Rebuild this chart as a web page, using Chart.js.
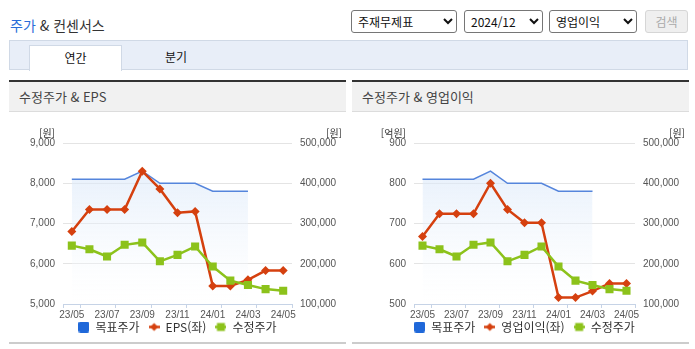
<!DOCTYPE html>
<html lang="ko">
<head>
<meta charset="utf-8">
<script src="https://cdn.jsdelivr.net/npm/chart.js@4.4.1/dist/chart.umd.min.js"></script>
<style>
  html, body { margin:0; padding:0; background:#fff; width:695px; height:349px; overflow:hidden; }
  body { position:relative; font-family:"Noto Sans CJK KR","Noto Sans",sans-serif; color:#333; }
  .abs { position:absolute; }
  #title { left:10px; top:14px; font-size:14px; line-height:22px; color:#333; white-space:nowrap; }
  #title .blue { color:#2a6dd8; }
  select { position:absolute; top:10px; height:23px; font-size:12px; font-family:"Noto Sans CJK KR",sans-serif; color:#111; border:1px solid #767676; border-radius:3px; background:#fff; padding:0 2px; }
  #btn { left:645px; top:10px; width:41px; height:21px; border:1px solid #d6d6d6; border-radius:3px; background:#efefef; color:#aaa; font-size:12px; line-height:21px; text-align:center; }
  #tabbar { left:9px; top:40px; width:677px; height:28px; background:#e8eef8; border:1px solid #d0d9e6; }
  #tab1 { left:29px; top:45px; width:91px; height:25px; background:#fff; border:1px solid #d0d9e6; border-bottom:none; text-align:center; font-size:12px; line-height:24px; color:#111; }
  #tab2 { left:146px; top:45px; width:60px; height:25px; text-align:center; font-size:12px; line-height:24px; color:#111; }
  .phead { top:80px; width:337px; height:29px; border-top:2px solid #333; border-bottom:1px solid #dcdcdc; background:#f1f1f1; font-size:13px; line-height:29px; color:#444; }
  .phead span { padding-left:10px; }
  .pfoot { top:342px; width:337px; height:2px; background:#cccccc; }
  canvas { position:absolute; }
</style>
</head>
<body>
<div id="title" class="abs"><span class="blue">주가</span> &amp; 컨센서스</div>
<select style="left:351px;width:106px;"><option>주재무제표</option></select>
<select style="left:464px;width:79px;"><option>2024/12</option></select>
<select style="left:549px;width:88px;"><option>영업이익</option></select>
<div id="btn" class="abs">검색</div>
<div id="tabbar" class="abs"></div>
<div id="tab1" class="abs">연간</div>
<div id="tab2" class="abs">분기</div>

<div class="abs phead" style="left:9px;"><span>수정주가 &amp; EPS</span></div>
<div class="abs phead" style="left:352px;"><span>수정주가 &amp; 영업이익</span></div>

<canvas id="c1" width="337" height="239" style="left:9px;top:113px;"></canvas>
<canvas id="c2" width="337" height="239" style="left:352px;top:113px;"></canvas>

<div class="abs pfoot" style="left:9px;"></div>
<div class="abs pfoot" style="left:352px;"></div>

<script>
// ---- data ----
const months = ['23/05','23/06','23/07','23/08','23/09','23/10','23/11','23/12','24/01','24/02','24/03','24/04','24/05'];
const targetPrice = [410000,410000,410000,410000,430000,400000,400000,400000,380000,380000,380000,null,null];
const adjPrice = [245000,236000,218000,247000,253000,206000,222000,243000,193000,158000,147000,137000,133000];
const eps = [6800,7350,7350,7350,8300,7860,7270,7300,5450,5450,5600,5830,5830];
const opProfit = [668,724,724,724,800,735,702,702,516,516,532,551,551];
const epsTicks = [5000,9000,1000];
const opTicks = [500,900,100];
const priceTicks = [100000,500000,100000];

// ---- styling helpers ----
const BLUE = '#5585dc', BLUE_BOX = '#1f68d9', RED = '#d5400f', GREEN = '#8cc21b';
const TICK_FONT = { family: "'Liberation Sans Narrow','Liberation Sans',sans-serif", size: 10 };
const TICK_COLOR = '#555';

function icon(kind) {
  const c = document.createElement('canvas');
  c.width = 11; c.height = 11;
  const g = c.getContext('2d');
  if (kind === 'box') {
    g.fillStyle = BLUE_BOX;
    g.beginPath(); g.roundRect(0, 0, 11, 11, 2); g.fill();
  } else {
    const col = kind === 'diamond' ? RED : GREEN;
    g.strokeStyle = col; g.lineWidth = 2.5;
    g.beginPath(); g.moveTo(0, 5.5); g.lineTo(11, 5.5); g.stroke();
    g.fillStyle = col;
    g.beginPath();
    if (kind === 'diamond') { g.moveTo(5.5, 1.5); g.lineTo(9.5, 5.5); g.lineTo(5.5, 9.5); g.lineTo(1.5, 5.5); g.closePath(); }
    else { g.rect(1.5, 1.5, 8, 8); }
    g.fill();
  }
  return c;
}
const icons = [icon('box'), icon('diamond'), icon('square')];

function gradientFill(ctx) {
  const chart = ctx.chart;
  const area = chart.chartArea;
  if (!area) return 'rgba(220,233,249,0.6)';
  const g = chart.ctx.createLinearGradient(0, area.top, 0, area.bottom);
  g.addColorStop(0, 'rgba(208,226,248,0.7)');
  g.addColorStop(1, 'rgba(255,255,255,0.2)');
  return g;
}

const unitPlugin = {
  id: 'units',
  afterLayout(chart) {
    const l = chart.legend;
    if (l) { l.top -= 9; l.bottom -= 9; }
  },
  afterDraw(chart, args, opts) {
    const { ctx, chartArea } = chart;
    ctx.save();
    ctx.font = '10px "Noto Sans CJK KR", sans-serif';
    ctx.fillStyle = '#333';
    ctx.textAlign = 'right';
    ctx.textBaseline = 'middle';
    ctx.fillText(opts.left, chartArea.left - 8, chartArea.top - 10);
    ctx.fillText(opts.right, chartArea.right + 50, chartArea.top - 10);
    ctx.restore();
  }
};

function fmt(v) { return Number(v).toLocaleString('en-US'); }

function makeChart(id, lineLabel, lineData, leftTicks, leftUnit, padLeft) {
  return new Chart(document.getElementById(id), {
    type: 'line',
    data: {
      labels: months,
      datasets: [
        { label: '목표주가', data: targetPrice, yAxisID: 'y1', borderColor: BLUE, borderWidth: 1.5,
          pointRadius: 0, fill: 'start', backgroundColor: gradientFill, order: 3, tension: 0 },
        { label: lineLabel, data: lineData, yAxisID: 'y', borderColor: RED, borderWidth: 2.5,
          pointStyle: 'rectRot', pointRadius: 4.5, pointBackgroundColor: RED, pointBorderWidth: 0,
          order: 2, tension: 0 },
        { label: '수정주가', data: adjPrice, yAxisID: 'y1', borderColor: GREEN, borderWidth: 2.5,
          pointStyle: 'rect', pointRadius: 5.7, pointBackgroundColor: GREEN, pointBorderWidth: 0,
          order: 1, tension: 0 }
      ]
    },
    options: {
      responsive: false,
      animation: false,
      layout: { padding: { top: 30, left: padLeft, right: 0, bottom: 0 } },
      plugins: {
        tooltip: { enabled: false },
        units: { left: leftUnit, right: '[원]' },
        legend: {
          position: 'bottom',
          labels: {
            usePointStyle: true,
            boxWidth: 11, boxHeight: 11,
            padding: 9,
            color: '#333',
            font: { family: "'Noto Sans CJK KR',sans-serif", size: 12 },
            sort: (a, b) => a.datasetIndex - b.datasetIndex,
            generateLabels(chart) {
              return chart.data.datasets.map((ds, i) => ({
                text: ds.label, datasetIndex: i, pointStyle: icons[i],
                fillStyle: 'transparent', strokeStyle: 'transparent', lineWidth: 0, hidden: false, fontColor: '#333'
              }));
            }
          }
        }
      },
      scales: {
        x: {
          offset: true,
          grid: {
            offset: true, drawOnChartArea: false, drawTicks: true, tickLength: 4,
            tickColor: (c) => (c.index === undefined || c.index === 0 || c.index % 2 === 1) ? '#c6d3e6' : 'rgba(0,0,0,0)'
          },
          border: { color: '#c6d3e6', width: 1 },
          ticks: {
            autoSkip: false, maxRotation: 0, minRotation: 0, padding: 1,
            color: TICK_COLOR, font: TICK_FONT,
            callback: function (v, i) { return i % 2 === 0 ? this.getLabelForValue(v) : ''; }
          },
          afterFit: (s) => { s.height = 17; }
        },
        y: {
          position: 'left',
          min: leftTicks[0], max: leftTicks[1],
          grid: { color: '#e4e4e4', drawTicks: false },
          border: { display: false },
          ticks: { stepSize: leftTicks[2], padding: 8, color: TICK_COLOR, font: TICK_FONT, callback: (v) => fmt(v) },
          afterFit: (s) => { s.width = 54; }
        },
        y1: {
          position: 'right',
          min: priceTicks[0], max: priceTicks[1],
          grid: { display: false, drawTicks: false },
          border: { display: false },
          ticks: { stepSize: priceTicks[2], padding: 8, color: TICK_COLOR, font: TICK_FONT, callback: (v) => fmt(v) },
          afterFit: (s) => { s.width = 54; }
        }
      }
    },
    plugins: [unitPlugin]
  });
}

makeChart('c1', 'EPS(좌)', eps, epsTicks, '[원]', 0);
makeChart('c2', '영업이익(좌)', opProfit, opTicks, '[억원]', 8);
</script>
</body>
</html>
